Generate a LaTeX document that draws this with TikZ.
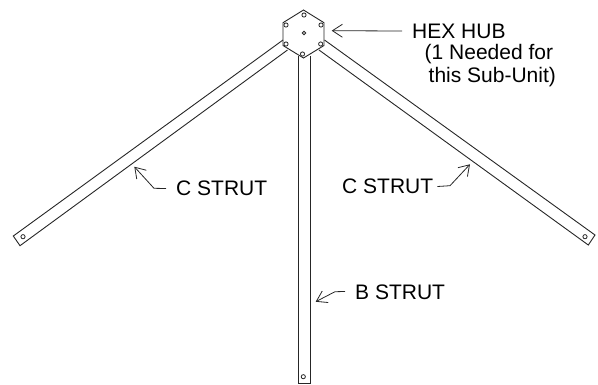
\documentclass[tikz,border=0pt]{standalone}
\usepackage{fontspec}
\setmainfont{Liberation Sans}
\usetikzlibrary{arrows.meta}
\tikzset{
  part/.style={line width=0.9pt, black!85},
  hole/.style={circle, draw=black!85, line width=0.8pt, fill=white, minimum size=4.2pt, inner sep=0pt},
  callout/.style={line width=0.8pt, black!85, -{Straight Barb[length=10pt, width=13pt, line width=0.8pt]}},
  partlabel/.style={anchor=west, inner sep=0pt, font=\fontsize{21}{23}\selectfont, align=left}
}
\begin{document}
\begin{tikzpicture}[x=1pt, y=-1pt]
\useasboundingbox (0, 0) rectangle (598, 384);
% hub
\draw [part] (303.5, 10) -- (324, 22.7) -- (324, 45.5) -- (303.5, 58) -- (283, 45.5) -- (283, 22.7) -- cycle;
\node [hole] (hubtop) at (304, 15) {};
\node [hole] (hubright) at (321, 25) {};
\node [hole] (hubrighttwo) at (320.7, 44) {};
\node [hole] (hubbottom) at (302.5, 54) {};
\node [hole] (hubleft) at (286, 44) {};
\node [hole] (hublefttwo) at (286, 25) {};
\node [hole, minimum size=3.5pt] (hubcentre) at (304, 33) {};
% struts
\draw [part] (283, 40) -- (13.3, 236) -- (20, 245.7) -- (287.5, 50);
\draw [part] (324.5, 40) -- (595, 235) -- (588.3, 245) -- (319, 50);
\draw [part] (298.3, 56) -- (298.3, 383) -- (310, 383) -- (310, 56);
\node [hole] (leftend) at (23, 236.7) {};
\node [hole] (rightend) at (585, 236.7) {};
\node [hole] (bottomend) at (303.3, 376.7) {};
% labels
\node [partlabel] (hublabel) at (412, 31) {HEX HUB};
\node [partlabel] (hubnote) at (424.5, 66) {(1 Needed for\\ \hspace*{4pt}this Sub-Unit)};
\node [partlabel] (cleft) at (176, 188.5) {C STRUT};
\node [partlabel] (cright) at (342, 186.5) {C STRUT};
\node [partlabel] (blabel) at (355, 292.5) {B STRUT};
% callouts
\coordinate (hubtip) at (331.7, 30.7);
\coordinate (clefttip) at (134.3, 166.7);
\coordinate (crighttip) at (470, 164.3);
\coordinate (btip) at (315.7, 301.7);
\draw [callout] (hublabel.west) ++(-10, 0) -- (hubtip);
\draw [callout] (cleft.west) ++(-10, 0) -- (154, 188.3) -- (clefttip);
\draw [callout] (cright.east) ++(4, 0) -- (450, 185.7) -- (crighttip);
\draw [callout] (blabel.west) ++(-10, -1) -- (335, 291.7) -- (btip);
\end{tikzpicture}
\end{document}
